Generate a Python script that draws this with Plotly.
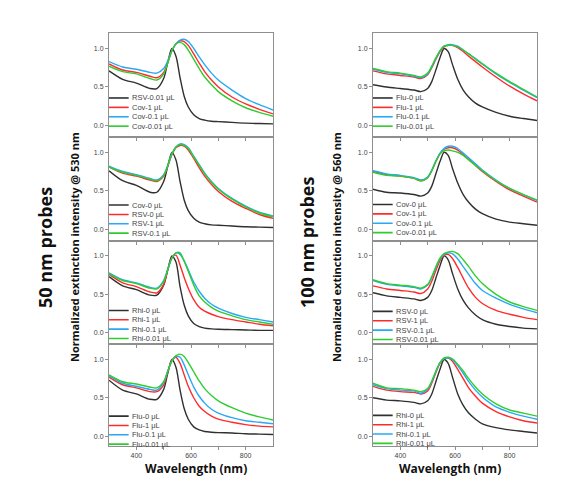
import plotly.graph_objects as go

# ---------------- data ----------------
WAVELENGTH = [300, 350, 400, 450, 475, 500, 515, 530, 545, 560, 575, 590,
              610, 630, 650, 675, 700, 750, 800, 850, 900]

X_TICKS = [400, 500, 600, 700, 800]
X_TICK_TEXT = ["400", "", "600", "", "800"]
Y_TICKS = [0.0, 0.5, 1.0]

# 50 nm probes (left column)
L1_LABELS = ["RSV-0.01 μL", "Cov-1 μL", "Cov-0.1 μL", "Cov-0.01 μL"]
L1_BLACK = [0.71, 0.60, 0.55, 0.48, 0.48, 0.61, 0.82, 1.00, 0.90, 0.62, 0.38, 0.24, 0.14, 0.09, 0.07, 0.055, 0.05, 0.04, 0.03, 0.025, 0.02]
L1_RED   = [0.80, 0.72, 0.69, 0.64, 0.62, 0.69, 0.82, 0.97, 1.06, 1.10, 1.09, 1.04, 0.93, 0.81, 0.70, 0.59, 0.50, 0.37, 0.28, 0.21, 0.15]
L1_BLUE  = [0.83, 0.76, 0.73, 0.69, 0.68, 0.74, 0.84, 0.97, 1.06, 1.11, 1.12, 1.09, 1.00, 0.89, 0.79, 0.68, 0.59, 0.46, 0.35, 0.27, 0.20]
L1_GREEN = [0.77, 0.70, 0.67, 0.61, 0.59, 0.67, 0.81, 0.97, 1.06, 1.08, 1.05, 0.98, 0.86, 0.74, 0.63, 0.53, 0.44, 0.32, 0.23, 0.17, 0.12]

L2_LABELS = ["Cov-0 μL", "RSV-0 μL", "RSV-1 μL", "RSV-0.1 μL"]
L2_BLACK = [0.76, 0.63, 0.57, 0.48, 0.48, 0.62, 0.82, 1.00, 0.90, 0.62, 0.38, 0.24, 0.14, 0.09, 0.07, 0.055, 0.05, 0.04, 0.03, 0.025, 0.02]
L2_RED   = [0.81, 0.73, 0.69, 0.64, 0.62, 0.69, 0.82, 0.97, 1.06, 1.09, 1.08, 1.03, 0.92, 0.80, 0.69, 0.58, 0.49, 0.36, 0.27, 0.19, 0.14]
L2_BLUE  = [0.82, 0.75, 0.71, 0.66, 0.64, 0.71, 0.83, 0.98, 1.07, 1.11, 1.10, 1.06, 0.95, 0.84, 0.73, 0.62, 0.53, 0.40, 0.30, 0.22, 0.17]
L2_GREEN = [0.81, 0.74, 0.70, 0.65, 0.63, 0.70, 0.83, 0.98, 1.07, 1.10, 1.09, 1.05, 0.94, 0.83, 0.72, 0.61, 0.52, 0.39, 0.29, 0.21, 0.16]

L3_LABELS = ["Rhi-0 μL", "Rhi-1 μL", "Rhi-0.1 μL", "Rhi-0.01 μL"]
L3_BLACK = [0.73, 0.61, 0.56, 0.49, 0.49, 0.62, 0.82, 1.00, 0.92, 0.60, 0.36, 0.22, 0.12, 0.08, 0.06, 0.05, 0.045, 0.04, 0.035, 0.03, 0.03]
L3_RED   = [0.76, 0.65, 0.60, 0.53, 0.52, 0.63, 0.82, 0.98, 1.01, 0.88, 0.72, 0.58, 0.43, 0.33, 0.28, 0.24, 0.21, 0.17, 0.14, 0.11, 0.09]
L3_BLUE  = [0.78, 0.69, 0.65, 0.59, 0.58, 0.68, 0.83, 0.97, 1.04, 1.02, 0.94, 0.82, 0.66, 0.54, 0.45, 0.37, 0.32, 0.25, 0.20, 0.17, 0.14]
L3_GREEN = [0.77, 0.68, 0.64, 0.58, 0.57, 0.67, 0.82, 0.97, 1.04, 1.04, 0.93, 0.80, 0.62, 0.48, 0.40, 0.33, 0.28, 0.22, 0.17, 0.14, 0.11]

L4_LABELS = ["Flu-0 μL", "Flu-1 μL", "Flu-0.1 μL", "Flu-0.01 μL"]
L4_BLACK = [0.73, 0.60, 0.55, 0.48, 0.48, 0.61, 0.82, 1.00, 0.90, 0.60, 0.36, 0.22, 0.12, 0.08, 0.06, 0.05, 0.045, 0.04, 0.03, 0.025, 0.02]
L4_RED   = [0.77, 0.67, 0.63, 0.58, 0.58, 0.67, 0.84, 0.99, 1.03, 0.95, 0.80, 0.65, 0.50, 0.39, 0.32, 0.26, 0.22, 0.18, 0.15, 0.13, 0.12]
L4_BLUE  = [0.79, 0.69, 0.65, 0.61, 0.60, 0.70, 0.85, 0.98, 1.04, 1.03, 0.93, 0.80, 0.64, 0.52, 0.43, 0.35, 0.30, 0.24, 0.20, 0.18, 0.16]
L4_GREEN = [0.80, 0.71, 0.68, 0.64, 0.63, 0.71, 0.85, 0.98, 1.05, 1.07, 1.04, 0.96, 0.84, 0.72, 0.62, 0.53, 0.46, 0.37, 0.30, 0.25, 0.21]

# 100 nm probes (right column)
R1_LABELS = ["Flu-0 μL", "Flu-1 μL", "Flu-0.1 μL", "Flu-0.01 μL"]
R1_BLACK = [0.53, 0.50, 0.48, 0.46, 0.44, 0.48, 0.57, 0.72, 0.88, 1.00, 0.96, 0.80, 0.60, 0.46, 0.37, 0.29, 0.24, 0.17, 0.12, 0.09, 0.065]
R1_RED   = [0.71, 0.67, 0.65, 0.63, 0.61, 0.66, 0.75, 0.86, 0.96, 1.02, 1.04, 1.04, 1.01, 0.96, 0.90, 0.83, 0.76, 0.63, 0.51, 0.41, 0.32]
R1_BLUE  = [0.73, 0.69, 0.67, 0.64, 0.62, 0.67, 0.76, 0.87, 0.97, 1.03, 1.05, 1.05, 1.03, 0.98, 0.93, 0.87, 0.80, 0.67, 0.56, 0.46, 0.36]
R1_GREEN = [0.74, 0.70, 0.68, 0.65, 0.63, 0.68, 0.77, 0.88, 0.97, 1.03, 1.04, 1.04, 1.02, 0.98, 0.93, 0.86, 0.80, 0.68, 0.57, 0.47, 0.37]

R2_LABELS = ["Cov-0 μL", "Cov-1 μL", "Cov-0.1 μL", "Cov-0.01 μL"]
R2_BLACK = [0.52, 0.48, 0.47, 0.45, 0.43, 0.47, 0.56, 0.72, 0.88, 1.00, 0.96, 0.80, 0.60, 0.45, 0.35, 0.26, 0.20, 0.13, 0.09, 0.07, 0.05]
R2_RED   = [0.75, 0.71, 0.69, 0.66, 0.63, 0.67, 0.76, 0.88, 0.98, 1.04, 1.06, 1.06, 1.03, 0.97, 0.91, 0.83, 0.75, 0.62, 0.51, 0.43, 0.35]
R2_BLUE  = [0.76, 0.72, 0.70, 0.67, 0.64, 0.68, 0.77, 0.89, 0.99, 1.05, 1.08, 1.08, 1.05, 0.99, 0.93, 0.85, 0.77, 0.64, 0.53, 0.45, 0.37]
R2_GREEN = [0.74, 0.70, 0.69, 0.66, 0.63, 0.67, 0.76, 0.88, 0.98, 1.02, 1.03, 1.02, 1.00, 0.96, 0.90, 0.83, 0.76, 0.63, 0.53, 0.45, 0.38]

R3_LABELS = ["RSV-0 μL", "RSV-1 μL", "RSV-0.1 μL", "RSV-0.01 μL"]
R3_BLACK = [0.52, 0.48, 0.46, 0.44, 0.42, 0.46, 0.55, 0.71, 0.87, 1.00, 0.95, 0.78, 0.57, 0.42, 0.32, 0.23, 0.17, 0.11, 0.08, 0.06, 0.05]
R3_RED   = [0.61, 0.57, 0.55, 0.53, 0.51, 0.57, 0.67, 0.81, 0.94, 1.01, 1.02, 0.97, 0.85, 0.71, 0.58, 0.46, 0.38, 0.29, 0.24, 0.20, 0.17]
R3_BLUE  = [0.68, 0.63, 0.61, 0.59, 0.57, 0.62, 0.72, 0.85, 0.96, 1.02, 1.04, 1.03, 0.96, 0.86, 0.76, 0.64, 0.55, 0.45, 0.37, 0.31, 0.26]
R3_GREEN = [0.69, 0.64, 0.62, 0.60, 0.58, 0.63, 0.73, 0.86, 0.97, 1.03, 1.05, 1.06, 1.03, 0.95, 0.86, 0.74, 0.64, 0.50, 0.40, 0.34, 0.29]

R4_LABELS = ["Rhi-0 μL", "Rhi-1 μL", "Rhi-0.1 μL", "Rhi-0.01 μL"]
R4_BLACK = [0.50, 0.47, 0.46, 0.44, 0.42, 0.46, 0.55, 0.71, 0.87, 1.00, 0.95, 0.78, 0.55, 0.40, 0.30, 0.22, 0.16, 0.11, 0.08, 0.06, 0.04]
R4_RED   = [0.65, 0.60, 0.58, 0.57, 0.55, 0.59, 0.69, 0.83, 0.95, 1.01, 1.02, 0.98, 0.87, 0.75, 0.63, 0.52, 0.43, 0.32, 0.25, 0.20, 0.17]
R4_BLUE  = [0.67, 0.62, 0.60, 0.59, 0.56, 0.61, 0.71, 0.84, 0.96, 1.01, 1.02, 1.00, 0.92, 0.82, 0.71, 0.60, 0.51, 0.38, 0.31, 0.26, 0.22]
R4_GREEN = [0.69, 0.63, 0.62, 0.60, 0.58, 0.62, 0.72, 0.85, 0.96, 1.02, 1.03, 1.01, 0.94, 0.85, 0.75, 0.64, 0.55, 0.42, 0.34, 0.30, 0.26]

PANELS = [
    (L1_LABELS, [L1_BLACK, L1_RED, L1_BLUE, L1_GREEN]),
    (L2_LABELS, [L2_BLACK, L2_RED, L2_BLUE, L2_GREEN]),
    (L3_LABELS, [L3_BLACK, L3_RED, L3_BLUE, L3_GREEN]),
    (L4_LABELS, [L4_BLACK, L4_RED, L4_BLUE, L4_GREEN]),
    (R1_LABELS, [R1_BLACK, R1_RED, R1_BLUE, R1_GREEN]),
    (R2_LABELS, [R2_BLACK, R2_RED, R2_BLUE, R2_GREEN]),
    (R3_LABELS, [R3_BLACK, R3_RED, R3_BLUE, R3_GREEN]),
    (R4_LABELS, [R4_BLACK, R4_RED, R4_BLUE, R4_GREEN]),
]

# ---------------- style / layout ----------------
# the page body has an 8 px margin; the figure is sized so it fills the window
OFF = 8
W_PX, H_PX = 570 - OFF, 482 - OFF


def px(xw):
    return (xw - OFF) / W_PX


def py(yw):
    return 1 - (yw - OFF) / H_PX


COLORS = ["#303030", "#ff2b2b", "#27a9f5", "#2fcc2f"]
FRAME = "#8f8f8f"
X_COLS = [(109, 273), (373, 537)]
ROW_TOPS = [33.1, 137.0, 240.6, 344.2]
ROW_BOTS = [137.0, 240.6, 344.2, 446.0]
Y_RANGES = [[-0.15, 1.2], [-0.15, 1.2], [-0.15, 1.2], [-0.13, 1.2]]
LEGEND_TOP = [0.357, 0.313, 0.29, 0.26, 0.357, 0.32, 0.278, 0.27]
LEGEND_STEP = 0.122

fig = go.Figure()
layout = dict(
    width=W_PX, height=H_PX, autosize=False,
    margin=dict(l=0, r=0, t=0, b=0),
    paper_bgcolor="white", plot_bgcolor="white",
    showlegend=False,
)
shapes = []
annotations = []

for i, (labels, series) in enumerate(PANELS):
    col, row = divmod(i, 4)
    n = i + 1
    xs = "" if n == 1 else str(n)
    xname, yname = "x" + xs, "y" + xs
    for k, (lab, vals) in enumerate(zip(labels, series)):
        fig.add_trace(go.Scatter(
            x=WAVELENGTH, y=vals, mode="lines", name=lab,
            line=dict(color=COLORS[k], width=1.4, shape="spline", smoothing=0.8),
            xaxis=xname, yaxis=yname, showlegend=False,
        ))
        yv = LEGEND_TOP[i] - k * LEGEND_STEP
        shapes.append(dict(type="line", xref=xname + " domain", yref=yname,
                           x0=0.0, x1=0.12, y0=yv, y1=yv,
                           line=dict(color=COLORS[k], width=1.6)))
        annotations.append(dict(text=lab, xref=xname + " domain", yref=yname,
                                x=0.13, y=yv, xanchor="left", yanchor="middle",
                                showarrow=False,
                                font=dict(family="Liberation Sans, Arial", size=7.5, color="#444")))
    x0, x1 = X_COLS[col]
    layout["xaxis" + xs] = dict(
        domain=[px(x0), px(x1)], anchor=yname, range=[300, 900],
        tickvals=X_TICKS, ticktext=X_TICK_TEXT, ticks="outside", ticklen=3,
        tickcolor=FRAME, showticklabels=(row == 3),
        tickfont=dict(family="Liberation Sans, Arial", size=7, color="#444"),
        showline=True, linecolor=FRAME, linewidth=1, mirror=True,
        showgrid=False, zeroline=False,
    )
    layout["yaxis" + xs] = dict(
        domain=[py(ROW_BOTS[row]), py(ROW_TOPS[row])],
        anchor=xname, range=Y_RANGES[row],
        tickvals=Y_TICKS, tickformat=".1f", ticks="outside", ticklen=3,
        tickcolor=FRAME,
        tickfont=dict(family="Liberation Sans, Arial", size=7, color="#444"),
        showline=True, linecolor=FRAME, linewidth=1, mirror=True,
        showgrid=False, zeroline=False,
    )

TITLE_FONT = "Open Sans, Lato, sans-serif"
annotations += [
    dict(text="50 nm probes", x=px(45), y=py(248), xref="paper", yref="paper",
         textangle=-90, showarrow=False, xanchor="center", yanchor="middle",
         font=dict(family=TITLE_FONT, size=18, color="#111", weight="bold")),
    dict(text="Normalized extinction intensity @ 530 nm", x=px(75), y=py(247),
         xref="paper", yref="paper", textangle=-90, showarrow=False,
         xanchor="center", yanchor="middle",
         font=dict(family=TITLE_FONT, size=11, color="#111", weight="bold")),
    dict(text="100 nm probes", x=px(307), y=py(243), xref="paper", yref="paper",
         textangle=-90, showarrow=False, xanchor="center", yanchor="middle",
         font=dict(family=TITLE_FONT, size=18, color="#111", weight="bold")),
    dict(text="Normalized extinction intensity @ 560 nm", x=px(337), y=py(247),
         xref="paper", yref="paper", textangle=-90, showarrow=False,
         xanchor="center", yanchor="middle",
         font=dict(family=TITLE_FONT, size=11, color="#111", weight="bold")),
    dict(text="Wavelength (nm)", x=px(196), y=py(468), xref="paper", yref="paper",
         showarrow=False, xanchor="center", yanchor="middle",
         font=dict(family=TITLE_FONT, size=12, color="#111", weight="bold")),
    dict(text="Wavelength (nm)", x=px(450), y=py(468), xref="paper", yref="paper",
         showarrow=False, xanchor="center", yanchor="middle",
         font=dict(family=TITLE_FONT, size=12, color="#111", weight="bold")),
]

layout["shapes"] = shapes
layout["annotations"] = annotations
fig.update_layout(**layout)
fig.write_html("out.html")
